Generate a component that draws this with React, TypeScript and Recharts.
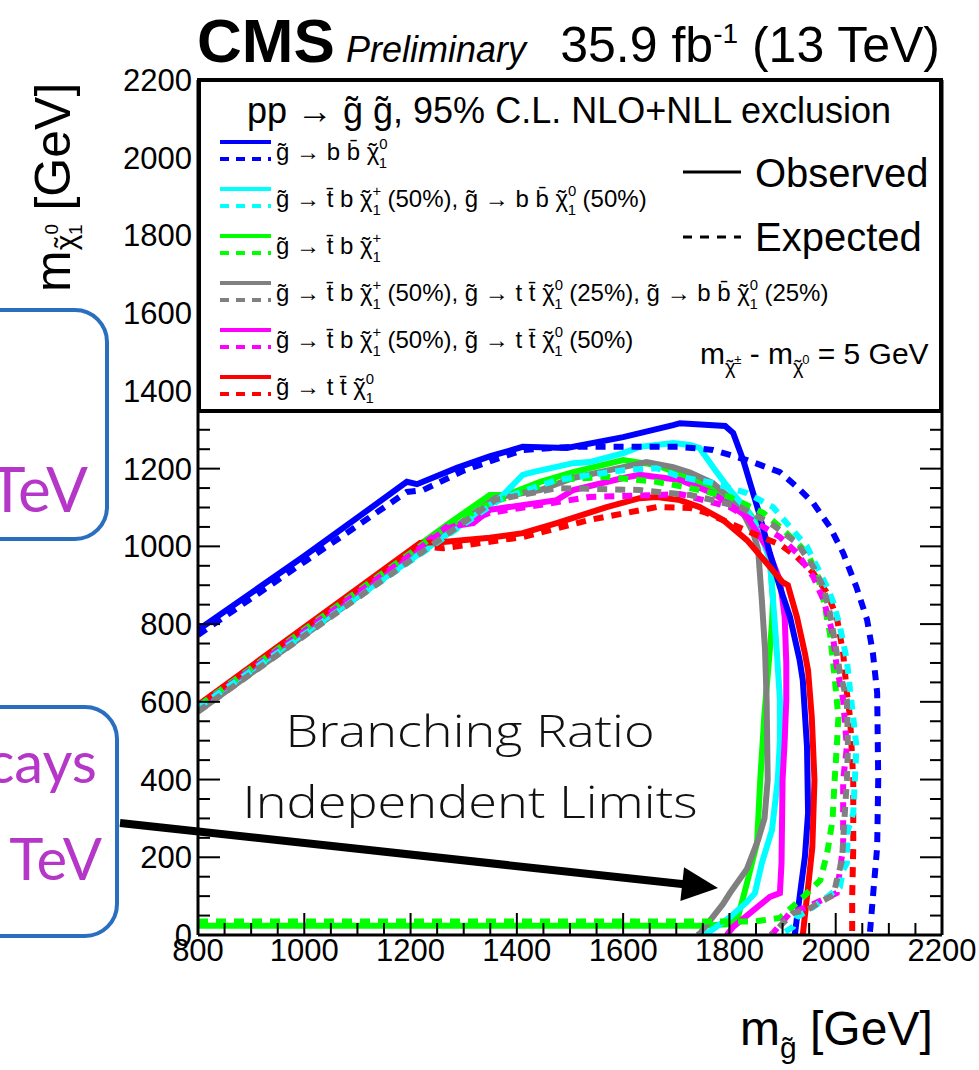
import React from 'react';
import { LineChart, Line, XAxis, YAxis } from 'recharts';

type Pt = [number, number];

// Exclusion contours in the (m_gluino, m_neutralino) plane, GeV.
// Blue: g~ -> b bbar chi0
const BB_OBS: Pt[] = [[800,785],[1000,975],[1193,1166],[1212,1160],[1287,1202],[1350,1232],[1411,1256],[1494,1253],[1600,1281],[1694,1312],[1707,1317],[1792,1310],[1807,1292],[1826,1222],[1854,1094],[1876,983],[1895,895],[1914,818],[1932,708],[1938,656],[1946,484],[1948,314],[1942,201],[1933,108],[1923,0]];
const BB_EXP: Pt[] = [[800,772],[1000,960],[1193,1140],[1224,1145],[1300,1195],[1411,1248],[1500,1256],[1600,1256],[1707,1256],[1769,1248],[1833,1222],[1895,1191],[1927,1153],[1958,1111],[1989,1050],[2014,983],[2039,895],[2059,811],[2070,725],[2078,623],[2080,399],[2078,226],[2070,98],[2064,0]];
// Cyan: 50% tbar b chi+, 50% b bbar chi0
const TB_BB_OBS: Pt[] = [[800,588],[1369,1125],[1411,1184],[1430,1191],[1506,1214],[1537,1217],[1600,1240],[1631,1256],[1694,1266],[1726,1261],[1744,1253],[1769,1204],[1801,1145],[1833,1094],[1858,1034],[1876,965],[1882,862],[1889,733],[1895,605],[1895,500],[1891,399],[1880,270],[1861,185],[1848,108],[1833,85],[1801,46],[1754,0]];
const TB_BB_EXP: Pt[] = [[800,585],[1369,1122],[1475,1171],[1600,1196],[1663,1201],[1707,1179],[1769,1163],[1833,1137],[1882,1101],[1914,1050],[1946,999],[1965,947],[1984,895],[1996,854],[2008,793],[2021,707],[2027,630],[2033,560],[2039,484],[2033,314],[2023,270],[2021,185],[2014,167],[2008,124],[1984,98],[1958,72],[1927,46],[1920,21],[1895,0]];
// Green: tbar b chi+
const TB_OBS: Pt[] = [[800,24],[1750,24],[1801,28],[1817,51],[1833,134],[1852,237],[1858,399],[1866,571],[1874,700],[1880,800],[1882,862],[1876,973],[1864,1034],[1833,1094],[1769,1153],[1726,1176],[1663,1209],[1600,1222],[1506,1191],[1444,1166],[1381,1132],[1349,1132],[1268,1055],[800,590]];
const TB_EXP: Pt[] = [[800,35],[1848,35],[1895,44],[1933,90],[1971,141],[1984,211],[1994,296],[1998,399],[2002,484],[2005,560],[2002,605],[1996,690],[1989,777],[1977,862],[1965,931],[1946,983],[1927,1009],[1895,1050],[1864,1086],[1801,1127],[1726,1150],[1663,1166],[1569,1179],[1475,1171],[1349,1110],[1268,1050],[800,588]];
// Gray: 50% tbar b chi+, 25% t tbar chi0, 25% b bbar chi0
const TB_TT_BB_OBS: Pt[] = [[800,575],[1360,1125],[1444,1145],[1506,1176],[1600,1204],[1644,1217],[1694,1204],[1726,1190],[1769,1163],[1820,1101],[1845,1034],[1854,991],[1861,862],[1867,733],[1870,605],[1872,399],[1866,300],[1854,245],[1833,170],[1801,108],[1788,80],[1745,5],[1740,0]];
const TB_TT_BB_EXP: Pt[] = [[800,575],[1360,1120],[1420,1135],[1475,1150],[1631,1145],[1726,1132],[1769,1119],[1820,1101],[1882,1055],[1927,1009],[1958,947],[1977,895],[1989,828],[1998,759],[2008,674],[2021,605],[2023,484],[2021,399],[2014,244],[2012,193],[2002,141],[1996,103],[1971,85],[1946,64],[1920,57],[1901,31],[1880,0]];
// Magenta: 50% tbar b chi+, 50% t tbar chi0
const TB_TT_OBS: Pt[] = [[800,588],[1268,1050],[1318,1060],[1349,1094],[1475,1119],[1506,1145],[1600,1176],[1631,1184],[1707,1171],[1769,1137],[1833,1076],[1870,999],[1895,913],[1904,818],[1907,700],[1907,605],[1904,500],[1900,399],[1898,185],[1895,108],[1876,98],[1807,21],[1795,0]];
const TB_TT_EXP: Pt[] = [[800,585],[1268,1045],[1349,1086],[1537,1127],[1663,1132],[1707,1135],[1801,1101],[1864,1050],[1895,1024],[1927,983],[1958,921],[1977,862],[1994,777],[2002,690],[2014,605],[2021,484],[2014,399],[2014,226],[2002,108],[1946,72],[1914,57],[1882,5],[1878,0]];
// Red: t tbar chi0
const TT_OBS: Pt[] = [[800,592],[1218,1009],[1261,1011],[1349,1022],[1411,1034],[1475,1060],[1569,1101],[1631,1124],[1663,1127],[1707,1119],[1744,1101],[1788,1068],[1833,1016],[1870,957],[1900,908],[1910,900],[1927,818],[1942,725],[1948,680],[1955,560],[1960,399],[1956,226],[1948,124],[1938,0]];
const TT_EXP: Pt[] = [[800,590],[1218,1000],[1261,995],[1411,1024],[1537,1068],[1663,1101],[1726,1099],[1757,1086],[1800,1060],[1850,1030],[1895,1005],[1927,973],[1958,931],[1984,880],[2002,818],[2014,725],[2021,623],[2027,560],[2033,399],[2033,226],[2031,98],[2031,0]];

const X_MAJOR = [800, 1000, 1200, 1400, 1600, 1800, 2000, 2200];
const Y_MAJOR = [0, 200, 400, 600, 800, 1000, 1200, 1400, 1600, 1800, 2000, 2200];
const MINOR_STEP = 50;

type Seg = string | { sup: string; sub: string };
const CHI0: Seg = { sup: '0', sub: '1' };
const CHIP: Seg = { sup: '+', sub: '1' };

const LBL_BB: Seg[] = ['g̃ → b b̄ ', CHI0];
const LBL_TB_BB: Seg[] = ['g̃ → t̄ b ', CHIP, ' (50%), g̃ → b b̄ ', CHI0, ' (50%)'];
const LBL_TB: Seg[] = ['g̃ → t̄ b ', CHIP];
const LBL_TB_TT_BB: Seg[] = ['g̃ → t̄ b ', CHIP, ' (50%), g̃ → t t̄ ', CHI0, ' (25%), g̃ → b b̄ ', CHI0, ' (25%)'];
const LBL_TB_TT: Seg[] = ['g̃ → t̄ b ', CHIP, ' (50%), g̃ → t t̄ ', CHI0, ' (50%)'];
const LBL_TT: Seg[] = ['g̃ → t t̄ ', CHI0];

const SERIES = [
  { id: 'bb', color: '#0000ff', obs: BB_OBS, exp: BB_EXP, label: LBL_BB },
  { id: 'tbbb', color: '#00ffff', obs: TB_BB_OBS, exp: TB_BB_EXP, label: LBL_TB_BB },
  { id: 'tb', color: '#00ff00', obs: TB_OBS, exp: TB_EXP, label: LBL_TB },
  { id: 'tbttbb', color: '#808080', obs: TB_TT_BB_OBS, exp: TB_TT_BB_EXP, label: LBL_TB_TT_BB },
  { id: 'tbtt', color: '#ff00ff', obs: TB_TT_OBS, exp: TB_TT_EXP, label: LBL_TB_TT },
  { id: 'tt', color: '#ff0000', obs: TT_OBS, exp: TT_EXP, label: LBL_TT },
];

const SOLID_ORDER = ['tb', 'tbttbb', 'tbbb', 'tbtt', 'bb', 'tt'];
const DASH_ORDER = ['tt', 'tb', 'tbtt', 'tbbb', 'tbttbb', 'bb'];

const W = 979;
const H = 1070;
const FONT = '"Liberation Sans", Arial, Helvetica, sans-serif';
const LIGHT = '"Open Sans", Lato, sans-serif';
const CALLOUT = 'Lato, "Open Sans", sans-serif';

const rows = (pts: Pt[]) => pts.map(([x, y]) => ({ x, y }));
const withMinor = (major: number[]) => {
  const out: number[] = [];
  major.forEach((v, i) => {
    out.push(v);
    if (i < major.length - 1) for (let m = v + MINOR_STEP; m < major[i + 1]; m += MINOR_STEP) out.push(m);
  });
  return out;
};
const isMajor = (v: number, major: number[]) => major.includes(v);

const XTick = (props: any) => {
  const { x, y, payload } = props;
  const major = isMajor(payload.value, X_MAJOR);
  return (
    <g>
      <line x1={x} x2={x} y1={y} y2={y - (major ? 22 : 12)} stroke="#000" strokeWidth={2} />
      {major && (
        <text x={x} y={y + 26} textAnchor="middle" fontFamily={FONT} fontSize={31} fill="#000">
          {payload.value}
        </text>
      )}
    </g>
  );
};

const YTickLeft = (props: any) => {
  const { x, y, payload } = props;
  const major = isMajor(payload.value, Y_MAJOR);
  return (
    <g>
      <line x1={x} x2={x + (major ? 22 : 12)} y1={y} y2={y} stroke="#000" strokeWidth={2} />
      {major && (
        <text x={x - 6} y={y + 11} textAnchor="end" fontFamily={FONT} fontSize={31} fill="#000">
          {payload.value}
        </text>
      )}
    </g>
  );
};

const YTickRight = (props: any) => {
  const { x, y, payload } = props;
  const major = isMajor(payload.value, Y_MAJOR);
  return <line x1={x} x2={x - (major ? 22 : 12)} y1={y} y2={y} stroke="#000" strokeWidth={2} />;
};

// chi with a tilde on top and stacked super/subscripts, as tspans on a baseline
const chiParts = (key: string, base: number, fs: number, sup: string, sub: string) => {
  const small = fs * 0.62;
  return [
    <tspan key={key + 'c'} y={base} fontSize={fs}>χ</tspan>,
    <tspan key={key + 't'} y={base - fs * 0.02} dx={-fs * 0.44} fontSize={fs}>˜</tspan>,
    <tspan key={key + 'p'} y={base - fs * 0.45} dx={fs * 0.1} fontSize={small}>{sup}</tspan>,
    <tspan key={key + 'b'} y={base + fs * 0.32} dx={-small * 0.58} fontSize={small}>{sub}</tspan>,
  ];
};

const RichText = ({ segs, x, base, fs }: { segs: Seg[]; x: number; base: number; fs: number }) => {
  const parts: React.ReactNode[] = [];
  segs.forEach((s, i) => {
    if (typeof s === 'string') {
      parts.push(<tspan key={i} y={base} fontSize={fs}>{s}</tspan>);
    } else {
      parts.push(...chiParts(String(i), base, fs, s.sup, s.sub));
    }
  });
  return (
    <text x={x} y={base} fontFamily={FONT} fill="#000" style={{ whiteSpace: 'pre' }}>
      {parts}
    </text>
  );
};

const LEG_X0 = 220;
const LEG_X1 = 271;
const LEG_TOP = 142;
const LEG_STEP = 47;

const Overlay = () => {
  const tip = { x: 718, y: 888 };
  const start = { x: 120, y: 823 };
  const dx = tip.x - start.x;
  const dy = tip.y - start.y;
  const len = Math.hypot(dx, dy);
  const ux = dx / len;
  const uy = dy / len;
  const headL = 36;
  const headW = 17;
  const bx = tip.x - ux * headL;
  const by = tip.y - uy * headL;
  const head = `${tip.x},${tip.y} ${bx - uy * headW},${by + ux * headW} ${bx + uy * headW},${by - ux * headW}`;
  return (
    <svg width={W} height={H} style={{ position: 'absolute', left: 0, top: 0, pointerEvents: 'none' }}>
      {/* Title */}
      <text x={197} y={62} fontFamily={FONT} fontWeight="bold" fontSize={62} fill="#000">CMS</text>
      <text x={346} y={62} fontFamily={FONT} fontStyle="italic" fontSize={36} fill="#000">Preliminary</text>
      <text x={940} y={62} textAnchor="end" fontFamily={FONT} fontSize={50} fill="#000">
        35.9 fb<tspan dy={-19} fontSize={28}>-1</tspan>
        <tspan dy={19}> (13 TeV)</tspan>
      </text>

      {/* Axis titles */}
      <text transform="translate(70,292) rotate(-90)" fontFamily={FONT} fill="#000">
        <tspan y={0} fontSize={50}>m</tspan>
        <tspan y={6} fontSize={30}>χ</tspan>
        <tspan y={5} dx={-13} fontSize={30}>˜</tspan>
        <tspan y={-12} dx={3} fontSize={19}>0</tspan>
        <tspan y={12} dx={-11} fontSize={19}>1</tspan>
        <tspan y={0} fontSize={50}> [GeV]</tspan>
      </text>
      <text x={740} y={1045} fontFamily={FONT} fill="#000">
        <tspan y={1045} fontSize={48}>m</tspan>
        <tspan y={1058} fontSize={30}>g̃</tspan>
        <tspan y={1045} fontSize={48}> [GeV]</tspan>
      </text>

      {/* Legend */}
      <rect x={199} y={80} width={742} height={331} fill="#fff" stroke="#000" strokeWidth={4} />
      <text x={569} y={123} textAnchor="middle" fontFamily={FONT} fontSize={36} fill="#000">
        pp → g̃ g̃, 95% C.L. NLO+NLL exclusion
      </text>
      {SERIES.map((s, i) => {
        const ys = LEG_TOP + i * LEG_STEP;
        return (
          <g key={s.id}>
            <line x1={LEG_X0} x2={LEG_X1} y1={ys} y2={ys} stroke={s.color} strokeWidth={4} />
            <line x1={LEG_X0} x2={LEG_X1} y1={ys + 17} y2={ys + 17} stroke={s.color} strokeWidth={4} strokeDasharray="9 7" />
            <RichText segs={s.label} x={276} base={ys + 18} fs={24} />
          </g>
        );
      })}
      <line x1={683} x2={741} y1={172} y2={172} stroke="#000" strokeWidth={3} />
      <text x={755} y={187} fontFamily={FONT} fontSize={40} fill="#000">Observed</text>
      <line x1={683} x2={741} y1={237} y2={237} stroke="#000" strokeWidth={3} strokeDasharray="9 8" />
      <text x={755} y={251} fontFamily={FONT} fontSize={40} fill="#000">Expected</text>
      <text x={700} y={364} fontFamily={FONT} fill="#000">
        <tspan y={364} fontSize={30}>m</tspan>
        <tspan y={374} fontSize={20}>χ</tspan>
        <tspan y={374} dx={-9} fontSize={20}>˜</tspan>
        <tspan y={364} dx={1} fontSize={13}>±</tspan>
        <tspan y={364} fontSize={30}> - m</tspan>
        <tspan y={374} fontSize={20}>χ</tspan>
        <tspan y={374} dx={-9} fontSize={20}>˜</tspan>
        <tspan y={364} dx={1} fontSize={13}>0</tspan>
        <tspan y={364} fontSize={30}> = 5 GeV</tspan>
      </text>

      {/* Side callouts */}
      <rect x={-60} y={310} width={167} height={229} rx={32} ry={32} fill="none" stroke="#2a6fbf" strokeWidth={4} />
      <text x={88} y={512} textAnchor="end" fontFamily={CALLOUT} fontSize={62} fill="#b537c8">TeV</text>
      <rect x={-60} y={707} width={177} height={229} rx={32} ry={32} fill="none" stroke="#2a6fbf" strokeWidth={4} />
      <text x={97} y={783} textAnchor="end" fontFamily={CALLOUT} fontSize={58} fill="#b537c8">cays</text>
      <text x={102} y={880} textAnchor="end" fontFamily={CALLOUT} fontSize={58} fill="#b537c8">TeV</text>

      {/* Annotation */}
      <text x={470} y={747} textAnchor="middle" fontFamily={LIGHT} fontWeight={300} fontSize={45} textLength={369} lengthAdjust="spacingAndGlyphs" fill="#111">Branching Ratio</text>
      <text x={470} y={818} textAnchor="middle" fontFamily={LIGHT} fontWeight={300} fontSize={45} textLength={455} lengthAdjust="spacingAndGlyphs" fill="#111">Independent Limits</text>
      <line x1={start.x} y1={start.y} x2={bx + ux * 2} y2={by + uy * 2} stroke="#000" strokeWidth={8} />
      <polygon points={head} fill="#000" />
    </svg>
  );
};

export default function App() {
  const byId = Object.fromEntries(SERIES.map((s) => [s.id, s]));
  return (
    <div style={{ position: 'absolute', left: 0, top: 0, width: W, height: H, background: '#fff' }}>
      <LineChart width={W} height={H} margin={{ top: 80, right: 36, bottom: 134, left: 197 }}>
        <XAxis
          type="number"
          dataKey="x"
          domain={[800, 2200]}
          allowDataOverflow
          ticks={withMinor(X_MAJOR)}
          interval={0}
          height={1}
          tickSize={0}
          tickMargin={0}
          tickLine={false}
          axisLine={{ stroke: '#000', strokeWidth: 3 }}
          tick={<XTick />}
        />
        <YAxis
          yAxisId="left"
          type="number"
          domain={[0, 2200]}
          allowDataOverflow
          ticks={withMinor(Y_MAJOR)}
          interval={0}
          width={1}
          tickSize={0}
          tickMargin={0}
          tickLine={false}
          axisLine={{ stroke: '#000', strokeWidth: 3 }}
          tick={<YTickLeft />}
        />
        <YAxis
          yAxisId="right"
          orientation="right"
          type="number"
          domain={[0, 2200]}
          allowDataOverflow
          ticks={withMinor(Y_MAJOR)}
          interval={0}
          width={1}
          tickSize={0}
          tickMargin={0}
          tickLine={false}
          axisLine={{ stroke: '#000', strokeWidth: 3 }}
          tick={<YTickRight />}
        />
        {SOLID_ORDER.map((id) => (
          <Line
            key={id + '-obs'}
            yAxisId="left"
            data={rows(byId[id].obs)}
            dataKey="y"
            stroke={byId[id].color}
            strokeWidth={6}
            dot={false}
            activeDot={false}
            isAnimationActive={false}
          />
        ))}
        {DASH_ORDER.map((id) => (
          <Line
            key={id + '-exp'}
            yAxisId="left"
            data={rows(byId[id].exp)}
            dataKey="y"
            stroke={byId[id].color}
            strokeWidth={6}
            strokeDasharray="10 8"
            dot={false}
            activeDot={false}
            isAnimationActive={false}
          />
        ))}
      </LineChart>
      <Overlay />
    </div>
  );
}
